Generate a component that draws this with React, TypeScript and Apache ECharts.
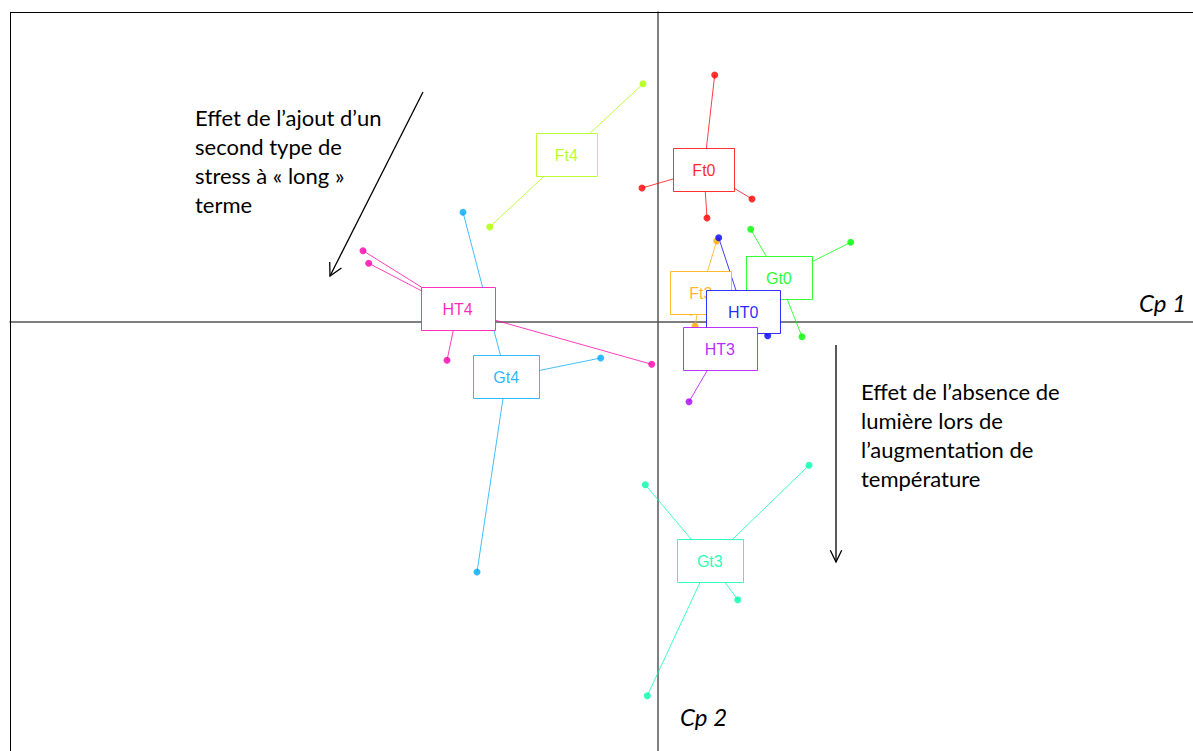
import React, { useEffect, useRef } from "react";
import * as echarts from "echarts";

// Group names and colours (R rainbow(9))
const groupNames = ["Ft0", "Ft3", "Ft4", "Gt0", "Gt3", "Gt4", "HT0", "HT3", "HT4"];
const groupColors = ["#FF0000", "#FFAA00", "#AAFF00", "#00FF00", "#00FFAA", "#00AAFF", "#0000FF", "#AA00FF", "#FF00AA"];

// Individual scores on (Cp 1, Cp 2) for each group
const ft0Points = [[0.567, 2.47], [-0.16, 1.34], [0.94, 1.23], [0.49, 1.04]];
const ft3Points = [[0.587, 0.81], [0.37, -0.04], [0.33, 0.1]];
const ft4Points = [[-0.15, 2.383], [-1.683, 0.95]];
const gt0Points = [[0.927, 0.927], [1.927, 0.797], [1.44, -0.147], [0.54, 0.17]];
const gt3Points = [[-0.127, -1.627], [1.51, -1.433], [0.797, -2.777], [-0.107, -3.737]];
const gt4Points = [[-1.95, 1.097], [-0.573, -0.36], [-1.81, -2.5], [-1.739, -0.445]];
const ht0Points = [[0.607, 0.843], [1.097, -0.137], [0.852, -0.415]];
const ht3Points = [[0.31, -0.797], [0.926, 0.257]];
const ht4Points = [[-2.95, 0.713], [-2.893, 0.587], [-2.11, -0.383], [-0.063, -0.423]];

const groupPoints = [ft0Points, ft3Points, ft4Points, gt0Points, gt3Points, gt4Points, ht0Points, ht3Points, ht4Points];

const annotationLeft = ["Effet de l’ajout d’un", "second type de", "stress à « long »", "terme"];
const annotationRight = ["Effet de l’absence de", "lumière lors de", "l’augmentation de", "température"];

const LABEL_FONT = '16px "Liberation Sans", Arial, sans-serif';
const NOTE_FONT_FAMILY = 'Lato, "Open Sans", sans-serif';

function arrowHead(tip: number[], tail: number[], len: number, angleDeg: number) {
  const dx = tail[0] - tip[0];
  const dy = tail[1] - tip[1];
  const d = Math.sqrt(dx * dx + dy * dy);
  const ux = dx / d, uy = dy / d;
  const a = (angleDeg * Math.PI) / 180;
  const rot = (s: number) => [
    tip[0] + len * (ux * Math.cos(s * a) - uy * Math.sin(s * a)),
    tip[1] + len * (ux * Math.sin(s * a) + uy * Math.cos(s * a)),
  ];
  return [rot(1), tip, rot(-1)];
}

export default function App() {
  const ref = useRef<HTMLDivElement>(null);

  useEffect(() => {
    if (!ref.current) return;
    const chart = echarts.init(ref.current, undefined, { renderer: "svg" });

    const centroids = groupPoints.map((pts) => {
      const sx = pts.reduce((s, p) => s + p[0], 0);
      const sy = pts.reduce((s, p) => s + p[1], 0);
      return [sx / pts.length, sy / pts.length];
    });

    const canvas = document.createElement("canvas");
    const ctx = canvas.getContext("2d")!;
    ctx.font = LABEL_FONT;
    const boxWidths = groupNames.map((n) => ctx.measureText(n).width * 1.79 + 20);

    const segData: any[] = [];
    const pointData: any[] = [];
    groupPoints.forEach((pts, gi) => {
      pts.forEach((p) => {
        segData.push({ coords: [centroids[gi], p], lineStyle: { color: groupColors[gi] } });
        pointData.push({ value: p, itemStyle: { color: groupColors[gi] } });
      });
    });

    const arrow1Tail = [423, 92];
    const arrow1Tip = [330, 276];
    const arrow2Tail = [836, 345];
    const arrow2Tip = [836, 562];

    const noteText = (lines: string[], x: number, y: number) =>
      lines.map((t, i) => ({
        type: "text",
        x,
        y: y + i * 29,
        style: { text: t, fill: "#000", fontSize: 22, fontFamily: NOTE_FONT_FAMILY, verticalAlign: "middle" },
        z: 20,
      }));

    chart.setOption({
      animation: false,
      backgroundColor: "#fff",
      grid: {
        left: 10,
        top: 12,
        right: 0,
        bottom: 0,
        show: false,
      },
      xAxis: {
        type: "value",
        min: -6.48,
        max: 5.35,
        axisLine: { show: true, onZero: true, lineStyle: { color: "#555", width: 1.5 } },
        axisTick: { show: false },
        axisLabel: { show: false },
        splitLine: { show: false },
      },
      yAxis: {
        type: "value",
        min: -4.29,
        max: 3.1,
        axisLine: { show: true, onZero: true, lineStyle: { color: "#555", width: 1.5 } },
        axisTick: { show: false },
        axisLabel: { show: false },
        splitLine: { show: false },
      },
      series: [
        {
          type: "lines",
          coordinateSystem: "cartesian2d",
          z: 2,
          lineStyle: { width: 1, opacity: 0.75 },
          data: segData,
          silent: true,
        },
        {
          type: "scatter",
          z: 3,
          symbol: "circle",
          symbolSize: 7,
          data: pointData,
          silent: true,
        },
        {
          type: "custom",
          coordinateSystem: "cartesian2d",
          z: 5,
          silent: true,
          data: centroids.map((c, i) => [c[0], c[1], i]),
          encode: { x: 0, y: 1 },
          renderItem: (params: any, api: any) => {
            const i = api.value(2);
            const p = api.coord([api.value(0), api.value(1)]);
            const w = boxWidths[i];
            const h = 43;
            return {
              type: "group",
              children: [
                {
                  type: "rect",
                  shape: { x: Math.round(p[0] - w / 2) + 0.5, y: Math.round(p[1] - h / 2) - 0.5, width: Math.round(w), height: h },
                  style: { fill: "#fff", stroke: groupColors[i], lineWidth: 1, opacity: 1, strokeOpacity: 0.8 },
                },
                {
                  type: "text",
                  style: {
                    text: groupNames[i],
                    x: p[0],
                    y: p[1],
                    align: "center",
                    verticalAlign: "middle",
                    fill: groupColors[i],
                    opacity: 0.85,
                    font: LABEL_FONT,
                  },
                },
              ],
            };
          },
        },
      ],
      graphic: [
        {
          type: "line",
          shape: { x1: 10, y1: 12.5, x2: 1193, y2: 12.5 },
          style: { stroke: "#000", lineWidth: 1 },
          z: 20,
        },
        {
          type: "line",
          shape: { x1: 10.5, y1: 12, x2: 10.5, y2: 751 },
          style: { stroke: "#000", lineWidth: 1 },
          z: 20,
        },
        ...noteText(annotationLeft, 195, 117),
        ...noteText(annotationRight, 861, 391),
        {
          type: "line",
          shape: { x1: arrow1Tail[0], y1: arrow1Tail[1], x2: arrow1Tip[0], y2: arrow1Tip[1] },
          style: { stroke: "#000", lineWidth: 1.3 },
          z: 20,
        },
        {
          type: "polyline",
          shape: { points: arrowHead(arrow1Tip, arrow1Tail, 14, 28) },
          style: { stroke: "#000", lineWidth: 1.3, fill: "none" },
          z: 20,
        },
        {
          type: "line",
          shape: { x1: arrow2Tail[0], y1: arrow2Tail[1], x2: arrow2Tip[0], y2: arrow2Tip[1] },
          style: { stroke: "#000", lineWidth: 1.3 },
          z: 20,
        },
        {
          type: "polyline",
          shape: { points: arrowHead(arrow2Tip, arrow2Tail, 13, 26) },
          style: { stroke: "#000", lineWidth: 1.3, fill: "none" },
          z: 20,
        },
        {
          type: "text",
          x: 1139,
          y: 302,
          style: { text: "Cp 1", fill: "#000", fontSize: 24, fontStyle: "italic", fontFamily: NOTE_FONT_FAMILY, verticalAlign: "middle" },
          z: 20,
        },
        {
          type: "text",
          x: 680,
          y: 716,
          style: { text: "Cp 2", fill: "#000", fontSize: 24, fontStyle: "italic", fontFamily: NOTE_FONT_FAMILY, verticalAlign: "middle" },
          z: 20,
        },
      ],
    });

    return () => chart.dispose();
  }, []);

  return (
    <div
      ref={ref}
      style={{ position: "fixed", left: 0, top: 0, width: 1193, height: 751, background: "#fff" }}
    />
  );
}
